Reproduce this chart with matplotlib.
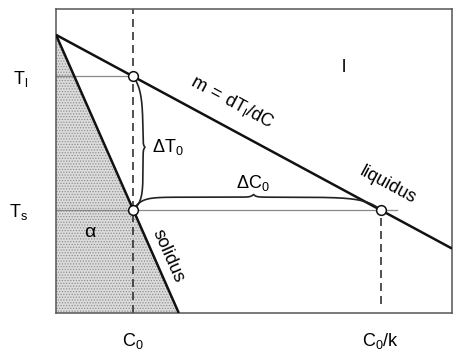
import numpy as np
import matplotlib
matplotlib.use("Agg")
import matplotlib.pyplot as plt

plt.rcParams['font.family'] = ['Liberation Sans', 'DejaVu Sans']
plt.rcParams['mathtext.default'] = 'regular'
plt.rcParams['hatch.color'] = '#8f8f8f'
plt.rcParams['hatch.linewidth'] = 0.6

# ---- data (schematic phase diagram, arbitrary units) ----
liquidus_C = [0.0, 10.0]
liquidus_T = [9.15, 2.12]
solidus_C = [0.0, 3.1]
solidus_T = [9.15, 0.0]
C0 = 1.95          # alloy composition
C0_over_k = 8.2    # liquid composition at T_s
T_l = 7.78         # liquidus temperature
T_s = 3.39         # solidus temperature
x_ticks = [C0, C0_over_k]
x_ticklabels = ['$C_0$', '$C_0/k$']
y_ticks = [T_s, T_l]
y_ticklabels = ['$T_s$', '$T_l$']

fig = plt.figure(figsize=(4.68, 3.52), dpi=100)
ax = fig.add_axes([56/468, 1-313/352, (452-56)/468, (313-9)/352])
ax.set_xlim(0, 10)
ax.set_ylim(0, 10)

for sp in ax.spines.values():
    sp.set_color('#555555')
    sp.set_linewidth(1.1)

# solid region shading
ax.fill_between(solidus_C, solidus_T, 0, facecolor='#dcdcdc', hatch='......',
                edgecolor='none', linewidth=0, zorder=1)

# thin guide lines
ax.plot([0, C0], [T_l, T_l], color='#888888', lw=0.9, zorder=2)
ax.plot([0, C0_over_k + 0.4], [T_s, T_s], color='#888888', lw=0.9, zorder=2)

# dashed verticals
ax.plot([C0, C0], [0, 10], color='#333333', lw=1.2, dashes=(4.8, 3), zorder=2)
ax.plot([C0_over_k, C0_over_k], [0.3, T_s], color='#333333', lw=1.2, dashes=(4.8, 3), zorder=2)

# liquidus and solidus
ax.plot(liquidus_C, liquidus_T, color='#111111', lw=1.8, zorder=3, solid_capstyle='butt')
ax.plot(solidus_C, solidus_T, color='#111111', lw=1.8, zorder=3, solid_capstyle='butt')

# braces
def brace_profile(s, a1, a2, plateau, cusp_at, cusp_h, cusp_w):
    base = plateau * (1 - np.exp(-s / a1)) * (1 - np.exp(-(1 - s) / a2))
    return base + cusp_h * np.exp(-np.abs(s - cusp_at) / cusp_w)

s = np.linspace(0, 1, 400)
# delta C0 brace (horizontal)
prof = brace_profile(s, 0.03, 0.06, 0.42, 0.486, 0.09, 0.010)
prof -= prof[0] * (1 - s) + prof[-1] * s
ax.plot(C0 + s * (C0_over_k - C0), T_s + prof, color='#222222', lw=1.2, zorder=3)
# delta T0 brace (vertical)
prof = brace_profile(s, 0.10, 0.06, 0.25, 0.53, 0.05, 0.015)
prof -= prof[0] * (1 - s) + prof[-1] * s
ax.plot(C0 + prof, T_l - s * (T_l - T_s), color='#222222', lw=1.2, zorder=3)

# open circles
ax.plot([C0, C0, C0_over_k], [T_l, T_s, T_s], 'o', ms=7, mfc='white', mec='#111111',
        mew=1.1, zorder=5, clip_on=False)

# ticks
ax.set_xticks(x_ticks)
ax.set_xticklabels(x_ticklabels, fontsize=13)
ax.set_yticks(y_ticks)
ax.set_yticklabels(y_ticklabels, fontsize=13)
ax.tick_params(axis='x', length=0, pad=13)
ax.tick_params(axis='y', length=3, direction='in', pad=20)

# rotation angles from display coords
def disp_angle(xs, ys):
    p = ax.transData.transform(np.column_stack([xs, ys]))
    return np.degrees(np.arctan2(p[1, 1] - p[0, 1], p[1, 0] - p[0, 0]))

ang_l = disp_angle(liquidus_C, liquidus_T)
ang_s = disp_angle(solidus_C, solidus_T)

ax.text(4.44, 6.94, '$m\\,=\\,dT_l/dC$', rotation=ang_l, rotation_mode='anchor',
        ha='center', va='center', fontsize=13)
ax.text(8.38, 4.21, 'liquidus', rotation=ang_l, rotation_mode='anchor',
        ha='center', va='center', fontsize=13)
ax.text(2.83, 1.875, 'solidus', rotation=ang_s, rotation_mode='anchor',
        ha='center', va='center', fontsize=13)
ax.text(7.27, 8.06, 'l', ha='center', va='center', fontsize=13)
ax.text(0.86, 2.66, 'α', ha='center', va='center', fontsize=14)
ax.text(2.83, 5.46, '$\\Delta T_0$', ha='center', va='center', fontsize=13)
ax.text(4.97, 4.28, '$\\Delta C_0$', ha='center', va='center', fontsize=13)

fig.savefig('out.png', dpi=100)
